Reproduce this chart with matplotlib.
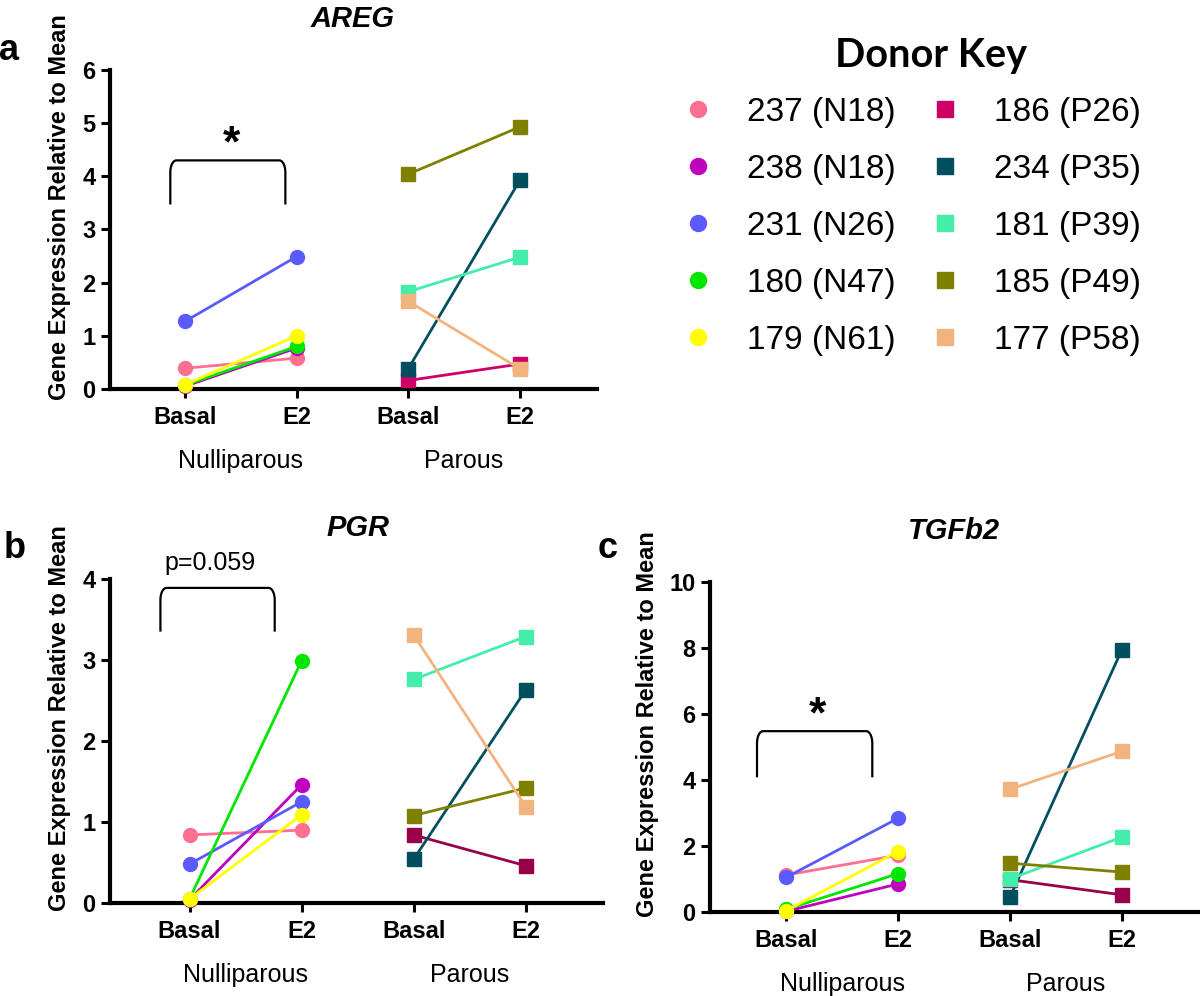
import numpy as np
import matplotlib
matplotlib.use('Agg')
import matplotlib.pyplot as plt
from matplotlib.lines import Line2D

plt.rcParams['font.family'] = ['Liberation Sans', 'DejaVu Sans']

# Donors and colours
donors_n = ['237 (N18)', '238 (N18)', '231 (N26)', '180 (N47)', '179 (N61)']
donors_p = ['186 (P26)', '234 (P35)', '181 (P39)', '185 (P49)', '177 (P58)']
colors_n = ['#FF6F91', '#BF00BF', '#5A5AFF', '#00E600', '#FFFF00']
colors_p = ['#CC0066', '#004F5F', '#44EEAA', '#808000', '#F2B47E']
colors_p_dark = ['#99004A', '#004F5F', '#44EEAA', '#808000', '#F2B47E']

cats = ['Basal', 'E2', 'Basal', 'E2']
groups = ['Nulliparous', 'Parous']

# AREG
areg_n_basal = [0.39, 0.05, 1.27, 0.07, 0.08]
areg_n_e2 = [0.58, 0.77, 2.49, 0.80, 1.00]
areg_p_basal = [0.16, 0.38, 1.83, 4.04, 1.65]
areg_p_e2 = [0.47, 3.93, 2.48, 4.93, 0.38]

# PGR
pgr_n_basal = [0.84, 0.04, 0.48, 0.05, 0.05]
pgr_n_e2 = [0.90, 1.46, 1.25, 2.99, 1.09]
pgr_p_basal = [0.84, 0.54, 2.76, 1.08, 3.31]
pgr_p_e2 = [0.46, 2.63, 3.29, 1.42, 1.19]

# TGFb2
tgf_n_basal = [1.12, 0.02, 1.05, 0.08, 0.04]
tgf_n_e2 = [1.72, 0.85, 2.84, 1.16, 1.83]
tgf_p_basal = [0.98, 0.45, 1.00, 1.48, 3.72]
tgf_p_e2 = [0.52, 7.95, 2.27, 1.21, 4.87]

fig = plt.figure(figsize=(12, 9.96), dpi=100)
W, H = 1200, 996


def px_rect(x0, y_top, x1, y_bot):
    return [x0 / W, 1 - y_bot / H, (x1 - x0) / W, (y_bot - y_top) / H]


def bracket(ax, x0, x1, ylow, ytop):
    # bracket with rounded top corners
    ymin, ymax = ax.get_ylim()
    xmin, xmax = ax.get_xlim()
    ry = 12 * (ymax - ymin) / ax.bbox.height
    rx = 6 * (xmax - xmin) / ax.bbox.width
    t = np.linspace(0, np.pi / 2, 12)
    xs = np.concatenate([[x0], x0 + rx * (1 - np.cos(t)), x1 - rx + rx * np.sin(t), [x1]])
    ys = np.concatenate([[ylow], ytop - ry + ry * np.sin(t), ytop - ry * (1 - np.cos(t)), [ylow]])
    ax.plot(xs, ys, color='black', lw=1.6, solid_capstyle='butt', clip_on=False)


def panel(rect, xlim, ymax, ystep, n_basal, n_e2, p_basal, p_e2, pcols, title):
    ax = fig.add_axes(rect)
    xpos = np.arange(len(cats))
    for i in range(len(donors_n)):
        ax.plot(xpos[:2], [n_basal[i], n_e2[i]], color=colors_n[i], marker='o',
                ms=10, lw=2, clip_on=False, zorder=3)
    for i in range(len(donors_p)):
        ax.plot(xpos[2:], [p_basal[i], p_e2[i]], color=pcols[i], marker='s',
                ms=9.5, lw=2, clip_on=False, zorder=3)
    ax.set_xlim(*xlim)
    ax.set_ylim(0, ymax)
    ax.set_yticks(np.arange(0, ymax + 0.01, ystep))
    ax.set_xticks(xpos)
    ax.set_xticklabels(cats)
    for s in ['top', 'right']:
        ax.spines[s].set_visible(False)
    for s in ['left', 'bottom']:
        ax.spines[s].set_linewidth(3)
    ax.tick_params(direction='out', length=6.5, width=2.2, labelsize=17, pad=4)
    ax.tick_params(axis='x', pad=6)
    for lab in ax.get_xticklabels() + ax.get_yticklabels():
        lab.set_fontweight('bold')
    ax.set_ylabel('Gene Expression Relative to Mean', fontsize=17, fontweight='bold')
    ax.yaxis.set_label_coords(-0.105 if ymax >= 10 else -0.08, 0.57)
    for k, g in enumerate(groups):
        ax.annotate(g, xy=(0.5 + 2 * k, 0), xycoords=('data', 'axes fraction'),
                    xytext=(0, -52), textcoords='offset points',
                    ha='center', va='center', fontsize=18)
    ax.annotate(title, xy=(1.5, 1), xycoords=('data', 'axes fraction'),
                xytext=(0, 37), textcoords='offset points',
                ha='center', va='center', fontsize=21, fontweight='bold', style='italic')
    return ax


# a: AREG
ax_a = panel(px_rect(110, 70, 597, 389), (-0.67, 3.69), 6, 1,
             areg_n_basal, areg_n_e2, areg_p_basal, areg_p_e2, colors_p, 'AREG')
bracket(ax_a, -0.13, 0.9, 3.47, 4.3)
ax_a.annotate('*', xy=(0.42, 4.87), xytext=(0, -19), textcoords='offset points',
              ha='center', va='baseline', fontsize=32, fontweight='bold')

# b: PGR
ax_b = panel(px_rect(110, 579, 603, 903), (-0.71, 3.69), 4, 1,
             pgr_n_basal, pgr_n_e2, pgr_p_basal, pgr_p_e2, colors_p_dark, 'PGR')
bracket(ax_b, -0.26, 0.76, 3.35, 3.89)
ax_b.text(0.18, 4.2, 'p=0.059', ha='center', va='center', fontsize=18, clip_on=False)

# c: TGFb2
ax_c = panel(px_rect(710, 582, 1198, 912), (-0.68, 3.68), 10, 2,
             tgf_n_basal, tgf_n_e2, tgf_p_basal, tgf_p_e2, colors_p_dark, 'TGFb2')
bracket(ax_c, -0.26, 0.77, 4.08, 5.48)
ax_c.annotate('*', xy=(0.28, 6.38), xytext=(0, -19), textcoords='offset points',
              ha='center', va='baseline', fontsize=32, fontweight='bold')

# panel letters
for letter, (x, y) in zip('abc', [(9, 50), (15, 548), (608, 548)]):
    fig.text(x / W, 1 - y / H, letter, ha='center', va='center',
             fontsize=26, fontweight='bold')

# donor key
fig.text(931 / W, 1 - 55 / H, 'Donor Key', ha='center', va='center',
         family='Lato', fontweight='bold', fontsize=28.5)
handles = [Line2D([], [], ls='none', marker='o', ms=11.5, color=c, label=d)
           for c, d in zip(colors_n, donors_n)]
handles += [Line2D([], [], ls='none', marker='s', ms=12, color=c, label=d)
            for c, d in zip(colors_p, donors_p)]
leg = fig.legend(handles=handles, ncol=2, loc='upper left',
                 bbox_to_anchor=(665 / W, 1 - 97 / H), borderaxespad=0, borderpad=0,
                 frameon=False, fontsize=24, handlelength=2.0,
                 handletextpad=0.45, columnspacing=0.5, labelspacing=0.78)

fig.savefig('out.png', dpi=100)
